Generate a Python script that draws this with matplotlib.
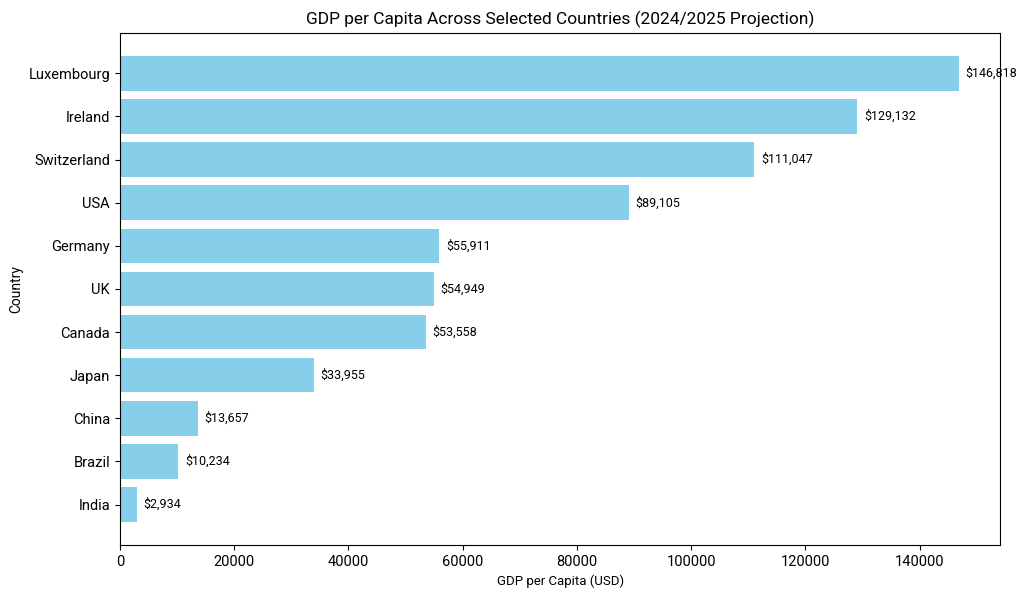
import matplotlib
matplotlib.use("Agg")
import matplotlib.pyplot as plt

plt.rcParams["font.family"] = ["Roboto", "DejaVu Sans"]

countries = ["India", "Brazil", "China", "Japan", "Canada", "UK", "Germany",
             "USA", "Switzerland", "Ireland", "Luxembourg"]
gdp_per_capita = [2934, 10234, 13657, 33955, 53558, 54949, 55911,
                  89105, 111047, 129132, 146818]

fig, ax = plt.subplots(figsize=(10.24, 5.97), dpi=100)
bars = ax.barh(countries, gdp_per_capita, color="skyblue")

for bar, val in zip(bars, gdp_per_capita):
    ax.text(bar.get_width() + 1200, bar.get_y() + bar.get_height() / 2,
            f"${val:,}", va="center", ha="left", fontsize=9)

ax.set_title("GDP per Capita Across Selected Countries (2024/2025 Projection)",
             fontsize=12.5)
ax.set_xlabel("GDP per Capita (USD)", fontsize=9.5)
ax.set_ylabel("Country", fontsize=10)
ax.tick_params(axis="both", labelsize=10.5)

fig.subplots_adjust(left=0.117, right=0.977, top=0.945, bottom=0.087)
fig.savefig("out.png", dpi=100)
